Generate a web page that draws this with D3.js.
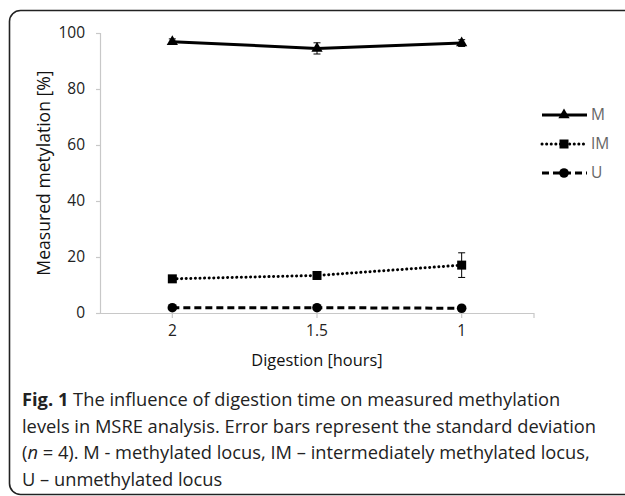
<!DOCTYPE html>
<html><head><meta charset="utf-8">
<script src="https://cdn.jsdelivr.net/npm/d3@7"></script>
<style>
html,body{margin:0;padding:0;background:#fff;}
svg{display:block;}
</style></head>
<body>
<svg id="chart" width="625" height="496"></svg>
<script>
const categories = ["2", "1.5", "1"];
const seriesNames = ["M", "IM", "U"];
const valuesM = [96.9, 94.5, 96.4];
const errorsM = [1.0, 2.0, 1.2];
const valuesIM = [12.2, 13.4, 17.1];
const errorsIM = [0.5, 0.8, 4.4];
const valuesU = [1.9, 1.9, 1.7];
const errorsU = [0.2, 0.2, 0.2];
const yTicks = [0, 20, 40, 60, 80, 100];
const captionLines = [
  [{t:"Fig. 1", b:true}, {t:" The influence of digestion time on measured methylation"}],
  [{t:"levels in MSRE analysis. Error bars represent the standard deviation"}],
  [{t:"("}, {t:"n", i:true}, {t:" = 4). M - methylated locus, IM \u2013 intermediately methylated locus,"}],
  [{t:"U \u2013 unmethylated locus"}]
];

const series = [
  {name: seriesNames[0], values: valuesM, errors: errorsM, dash: null, marker: "triangle"},
  {name: seriesNames[1], values: valuesIM, errors: errorsIM, dash: "0.1 4.5", marker: "square"},
  {name: seriesNames[2], values: valuesU, errors: errorsU, dash: "7 4", marker: "circle"}
];

const svg = d3.select("#chart");
const axisFont = "'Open Sans', sans-serif";

// frame
svg.append("rect").attr("x", 9.5).attr("y", 10.5).attr("width", 640).attr("height", 484)
  .attr("rx", 11).attr("fill", "none").attr("stroke", "#222").attr("stroke-width", 1.6);

const x = d3.scaleBand().domain(categories).range([100, 534]).padding(0);
const y = d3.scaleLinear().domain([0, 100]).range([313, 33]);
const xc = c => x(c) + x.bandwidth() / 2;

// y axis
const yAxis = d3.axisLeft(y).tickValues(yTicks).tickSize(4).tickPadding(11);
const gy = svg.append("g").attr("transform", "translate(100,0)").call(yAxis);
gy.select(".domain").attr("stroke", "#c8c8c8").attr("stroke-width", 1.2);
gy.selectAll(".tick line").attr("stroke", "#c8c8c8").attr("stroke-width", 1.2);
gy.selectAll(".tick text").attr("font-family", axisFont).attr("font-size", 15.5).attr("fill", "#222");

// x axis
const xAxis = d3.axisBottom(x).tickSize(0).tickPadding(12);
const gx = svg.append("g").attr("transform", "translate(0,313)").call(xAxis);
gx.select(".domain").attr("stroke", "#c8c8c8").attr("stroke-width", 1.2).attr("d", "M96,0.5H534");
gx.selectAll(".tick text").attr("font-family", axisFont).attr("font-size", 15.5).attr("fill", "#222");
const tickPos = categories.map(xc).concat([x.range()[1]]);
svg.append("g").selectAll("line").data(tickPos).join("line")
  .attr("x1", d => d).attr("x2", d => d).attr("y1", 313).attr("y2", 318)
  .attr("stroke", "#c8c8c8").attr("stroke-width", 1.2);

// axis titles
svg.append("text").attr("transform", "translate(50,173) rotate(-90)")
  .attr("text-anchor", "middle").attr("font-family", axisFont).attr("font-size", 17.6).attr("fill", "#111")
  .text("Measured metylation [%]");
svg.append("text").attr("x", 317).attr("y", 366)
  .attr("text-anchor", "middle").attr("font-family", axisFont).attr("font-size", 16.4).attr("fill", "#111")
  .text("Digestion [hours]");

function drawMarker(g, type, cx, cy) {
  if (type === "triangle") {
    g.append("path").attr("d", d3.symbol(d3.symbolTriangle, 55)()).attr("transform", `translate(${cx},${cy})`).attr("fill", "#000");
  } else if (type === "square") {
    g.append("rect").attr("x", cx - 4.5).attr("y", cy - 4.5).attr("width", 9).attr("height", 9).attr("fill", "#000");
  } else {
    g.append("circle").attr("cx", cx).attr("cy", cy).attr("r", 4.8).attr("fill", "#000");
  }
}

const line = d3.line().x((d, i) => xc(categories[i])).y(d => y(d));
series.forEach(s => {
  const g = svg.append("g");
  const p = g.append("path").attr("d", line(s.values)).attr("fill", "none").attr("stroke", "#000")
    .attr("stroke-width", 3);
  if (s.dash) p.attr("stroke-dasharray", s.dash);
  if (s.marker === "square") p.attr("stroke-linecap", "round");
  // error bars
  s.values.forEach((v, i) => {
    const cx = xc(categories[i]);
    const e = s.errors[i];
    g.append("line").attr("x1", cx).attr("x2", cx).attr("y1", y(v + e)).attr("y2", y(v - e)).attr("stroke", "#000").attr("stroke-width", 1);
    [v + e, v - e].forEach(b => g.append("line").attr("x1", cx - 3.5).attr("x2", cx + 3.5).attr("y1", y(b)).attr("y2", y(b)).attr("stroke", "#000").attr("stroke-width", 1));
  });
  s.values.forEach((v, i) => drawMarker(g, s.marker, xc(categories[i]), y(v)));
});

// legend
const legendY = [115, 144, 173];
series.forEach((s, i) => {
  const g = svg.append("g");
  const ly = legendY[i];
  const l = g.append("line").attr("x1", 542).attr("x2", 587).attr("y1", ly).attr("y2", ly)
    .attr("stroke", "#000").attr("stroke-width", 3);
  if (s.dash) l.attr("stroke-dasharray", s.dash);
  if (s.marker === "square") l.attr("stroke-linecap", "round");
  drawMarker(g, s.marker, 564, ly);
  g.append("text").attr("x", 591).attr("y", ly).attr("dy", "0.35em").attr("font-family", axisFont)
    .attr("font-size", 15.5).attr("fill", "#666").text(s.name);
});

// caption
const cap = svg.append("text").attr("font-family", "'Open Sans', sans-serif").attr("font-size", 18.3).attr("fill", "#222");
captionLines.forEach((ln, i) => {
  const t = cap.append("tspan").attr("x", 22).attr("y", 406 + i * 26.5);
  ln.forEach((seg, j) => {
    const ts = j === 0 ? t : cap.append("tspan");
    if (j === 0) t.text(seg.t); else ts.text(seg.t);
    if (seg.b) ts.attr("font-weight", "bold");
    if (seg.i) ts.attr("font-style", "italic");
  });
});
</script>
</body></html>
